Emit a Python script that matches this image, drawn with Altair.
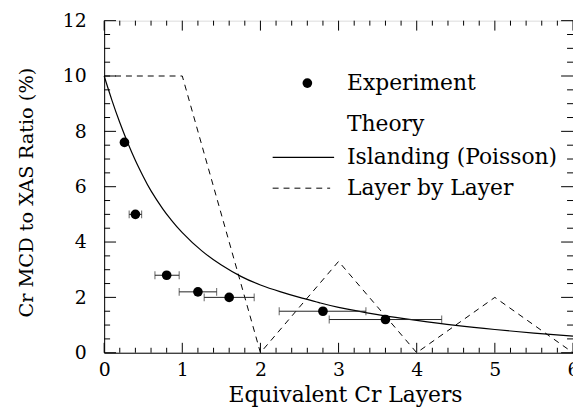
import altair as alt
import numpy as np
import pandas as pd

# Experiment data
exp_x = [0.26, 0.40, 0.80, 1.20, 1.60, 2.80, 3.60]
exp_y = [7.6, 5.0, 2.8, 2.2, 2.0, 1.5, 1.2]
exp_xlo = [0.26, 0.32, 0.65, 0.96, 1.28, 2.24, 2.88]
exp_xhi = [0.26, 0.48, 0.96, 1.44, 1.92, 3.35, 4.32]

# Islanding (Poisson) theory curve
isl_x = [0, 0.1, 0.2, 0.3, 0.4, 0.5, 0.6, 0.75, 0.85, 1.0, 1.25, 1.5, 1.75,
         2.0, 2.25, 2.5, 2.75, 3.0, 3.5, 4.0, 4.5, 5.0, 5.5, 6.0]
isl_y = [10, 9.12, 8.32, 7.6, 6.95, 6.37, 5.85, 5.2, 4.83, 4.34, 3.68, 3.17, 2.76,
         2.45, 2.21, 2.0, 1.81, 1.64, 1.38, 1.17, 0.99, 0.84, 0.71, 0.60]

# Layer by layer theory
lbl_x = [0, 1, 2, 3, 4, 5, 6]
lbl_y = [10, 10, 0, 3.3, 0, 2, 0]

x_ticks = [0, 1, 2, 3, 4, 5, 6]
y_ticks = [0, 2, 4, 6, 8, 10, 12]

FONT = "DejaVu Serif, Liberation Serif, serif"
W, H = 473, 335

xs = alt.Scale(domain=[0, 6], nice=False, zero=False)
ys = alt.Scale(domain=[0, 12], nice=False, zero=False)

exp_df = pd.DataFrame({"x": exp_x, "y": exp_y, "lo": exp_xlo, "hi": exp_xhi})
isl_df = pd.DataFrame({"x": isl_x, "y": isl_y})
lbl_df = pd.DataFrame({"x": lbl_x, "y": lbl_y})

x_major = pd.DataFrame({"v": x_ticks})
x_minor = pd.DataFrame({"v": [round(v, 2) for v in np.arange(0, 6.001, 0.2) if abs(v - round(v)) > 1e-6]})
y_major = pd.DataFrame({"v": y_ticks})
y_minor = pd.DataFrame({"v": [v for v in np.arange(0, 12.001, 0.5) if abs(v / 2 - round(v / 2)) > 1e-6]})

base_x = alt.X("x:Q", scale=xs, axis=alt.Axis(
    title="Equivalent Cr Layers", values=x_ticks, format="d", tickSize=0, grid=False,
    labelFlush=False,
    labelFont=FONT, labelFontSize=19, labelColor="black", labelPadding=8,
    titleFont=FONT, titleFontSize=22, titleFontWeight="normal", titleColor="black",
    titleX=243, titleY=49, titleBaseline="alphabetic", titleAlign="center",
    domainColor="black"))
base_y = alt.Y("y:Q", scale=ys, axis=alt.Axis(
    title="Cr MCD to XAS Ratio (%)", values=y_ticks, format="d", tickSize=0, grid=False,
    labelFlush=False,
    labelFont=FONT, labelFontSize=19, labelColor="black", labelPadding=18,
    titleFont=FONT, titleFontSize=19.5, titleFontWeight="normal", titleColor="black",
    titleX=-78, titleY=173, titleBaseline="middle", titleAlign="center", titleAngle=270,
    domainColor="black"))

layer_line = alt.Chart(lbl_df).mark_line(color="black", strokeWidth=1, strokeDash=[6, 5]).encode(
    x=base_x, y=base_y)
isl_line = alt.Chart(isl_df).mark_line(color="black", strokeWidth=1.2, interpolate="natural").encode(
    x="x:Q", y="y:Q")

err = alt.Chart(exp_df).mark_rule(color="#222", strokeWidth=1).encode(
    x="lo:Q", x2="hi:Q", y="y:Q")
cap_lo = alt.Chart(exp_df).mark_tick(orient="vertical", color="#222", thickness=1, size=8).encode(
    x="lo:Q", y="y:Q")
cap_hi = alt.Chart(exp_df).mark_tick(orient="vertical", color="#222", thickness=1, size=8).encode(
    x="hi:Q", y="y:Q")
pts = alt.Chart(exp_df).mark_circle(color="black", size=95, opacity=1).encode(
    x="x:Q", y="y:Q")

def xt(df, y1, y2):
    return alt.Chart(df).mark_rule(color="black", strokeWidth=1).encode(
        x=alt.X("v:Q", scale=xs), y=alt.value(y1), y2=alt.value(y2))

def yt(df, x1, x2):
    return alt.Chart(df).mark_rule(color="black", strokeWidth=1).encode(
        y=alt.Y("v:Q", scale=ys), x=alt.value(x1), x2=alt.value(x2))

ticks = [
    xt(x_major, H, H - 10), xt(x_minor, H, H - 5),
    xt(x_major, 0, 10), xt(x_minor, 0, 5),
    yt(y_major, 0, 12), yt(y_minor, 0, 6),
    yt(y_major, W, W - 12), yt(y_minor, W, W - 6),
]

leg_pt = alt.Chart(exp_df.head(1)).mark_circle(color="black", size=95, opacity=1).encode(
    x=alt.value(205), y=alt.value(63))

def leg_text(label, py):
    return alt.Chart(pd.DataFrame({"t": [label]})).mark_text(
        font=FONT, fontSize=22, align="left", baseline="middle", color="black").encode(
        x=alt.value(245), y=alt.value(py), text="t:N")

leg_solid = alt.Chart(exp_df.head(1)).mark_rule(color="black", strokeWidth=1.2).encode(
    x=alt.value(170), x2=alt.value(232), y=alt.value(138))
leg_dash = alt.Chart(exp_df.head(1)).mark_rule(color="black", strokeWidth=1, strokeDash=[6, 5]).encode(
    x=alt.value(170), x2=alt.value(228), y=alt.value(169))

chart = alt.layer(
    layer_line, isl_line, err, cap_lo, cap_hi, pts, *ticks,
    leg_pt, leg_text("Experiment", 63), leg_text("Theory", 104),
    leg_text("Islanding (Poisson)", 138), leg_text("Layer by Layer", 169),
    leg_solid, leg_dash,
).properties(
    width=W, height=H,
    autosize=alt.AutoSizeParams(type="none"),
    padding={"left": 97, "top": 11, "right": 0, "bottom": 56},
).configure_view(stroke="#333", strokeWidth=1).configure(background="white")

chart.save("out.html", embed_options={"renderer": "svg", "actions": False})
